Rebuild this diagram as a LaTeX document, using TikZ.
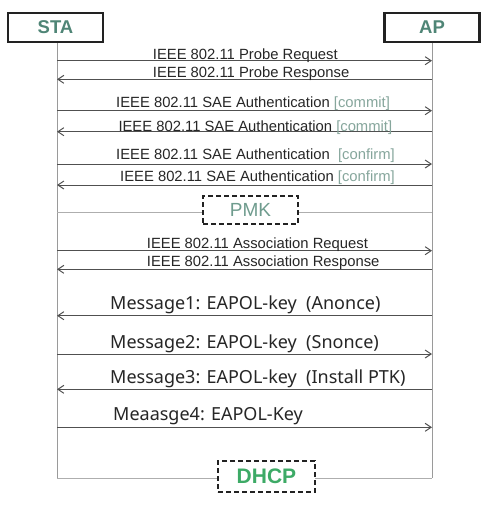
\documentclass[tikz,border=0pt]{standalone}
\usepackage{fontspec}
\setmainfont{Liberation Sans}
\newfontfamily\msgfont{Noto Sans}
\usetikzlibrary{arrows.meta}
\definecolor{boxline}{HTML}{222222}
\definecolor{boxtext}{HTML}{4F8576}
\definecolor{lifegray}{HTML}{9A9A9A}
\definecolor{arrowgray}{HTML}{505050}
\definecolor{labelgray}{HTML}{262626}
\definecolor{tagcolor}{HTML}{86A69C}
\definecolor{pmkcolor}{HTML}{6F9C8E}
\definecolor{dhcpcolor}{HTML}{3DAA66}
\tikzset{
	ent/.style={draw=boxline, line width=2.4pt, minimum width=95pt, minimum height=29pt, inner sep=0pt, text=boxtext, font=\fontsize{18.5}{20}\selectfont\bfseries},
	life/.style={draw=lifegray, line width=1pt},
	msg/.style={->, >={Straight Barb[length=6pt,width=8pt]}, draw=arrowgray, line width=1pt},
	ieee/.style={anchor=base west, inner sep=0pt, text=labelgray, font=\fontsize{14.8}{16}\selectfont},
	eapol/.style={anchor=base west, inner sep=0pt, text=labelgray, font=\msgfont\fontsize{18}{20}\selectfont},
	keybox/.style={draw=boxline, line width=2pt, dash pattern=on 5pt off 3pt, fill=white, minimum width=95pt, minimum height=28pt, inner sep=0pt}
}
\newcommand{\tag}[1]{\textcolor{tagcolor}{[}\textcolor{tagcolor}{#1}\textcolor{tagcolor}{]}}
\begin{document}
\begin{tikzpicture}[x=1pt, y=-1pt]
	\useasboundingbox[fill=white] (0,0) rectangle (500,507);

	\node[ent](sta) at (55.5,27.5) {STA};
	\node[ent](ap) at (432,27.5) {AP};
	\coordinate (staEnd) at (57,478);
	\coordinate (apEnd) at (432,478);
	\draw[life](sta.south -| staEnd) -- (staEnd);
	\draw[life](ap.south) -- (apEnd);

	% lifeline points
	\coordinate (s1) at (57,60.7);   \coordinate (a1) at (432,60.7);
	\coordinate (s2) at (57,79.3);   \coordinate (a2) at (432,79.3);
	\coordinate (s3) at (57,110.7);  \coordinate (a3) at (432,110.7);
	\coordinate (s4) at (57,131.7);  \coordinate (a4) at (432,131.7);
	\coordinate (s5) at (57,164);    \coordinate (a5) at (432,164);
	\coordinate (s6) at (57,185);    \coordinate (a6) at (432,185);
	\coordinate (s7) at (57,212);    \coordinate (a7) at (432,212);
	\coordinate (s8) at (57,250.7);  \coordinate (a8) at (432,250.7);
	\coordinate (s9) at (57,269.3);  \coordinate (a9) at (432,269.3);
	\coordinate (s10) at (57,315.7); \coordinate (a10) at (432,315.7);
	\coordinate (s11) at (57,354);   \coordinate (a11) at (432,354);
	\coordinate (s12) at (57,389.3); \coordinate (a12) at (432,389.3);
	\coordinate (s13) at (57,427.3); \coordinate (a13) at (432,427.3);

	% probe
	\draw[msg](s1) -- (a1);
	\node[ieee](l1) at (152.7,59.3) {IEEE 802.11 Probe Request};
	\draw[msg](a2) -- (s2);
	\node[ieee](l2) at (152.7,77.3) {IEEE 802.11 Probe Response};

	% SAE
	\draw[msg](s3) -- (a3);
	\node[ieee](l3) at (116,107.3) {IEEE 802.11 SAE Authentication \tag{commit}};
	\draw[msg](a4) -- (s4);
	\node[ieee](l4) at (118.3,131) {IEEE 802.11 SAE Authentication \tag{commit}};
	\draw[msg](s5) -- (a5);
	\node[ieee](l5) at (116,159.3) {IEEE 802.11 SAE Authentication \ \tag{confirm}};
	\draw[msg](a6) -- (s6);
	\node[ieee](l6) at (120,181) {IEEE 802.11 SAE Authentication \tag{confirm}};

	% PMK
	\draw[life, draw=lifegray!80](s7) -- (a7);
	\node[keybox, text=pmkcolor, font=\fontsize{19}{21}\selectfont](pmk) at (250.5,210) {PMK};

	% association
	\draw[msg](s8) -- (a8);
	\node[ieee](l8) at (146.7,248.3) {IEEE 802.11 Association Request};
	\draw[msg](a9) -- (s9);
	\node[ieee](l9) at (146.7,266.7) {IEEE 802.11 Association Response};

	% 4-way handshake
	\draw[msg](a10) -- (s10);
	\node[eapol](l10) at (110,309.3) {Message1: EAPOL-key\ \ (Anonce)};
	\draw[msg](s11) -- (a11);
	\node[eapol](l11) at (110,348) {Message2: EAPOL-key\ \ (Snonce)};
	\draw[msg](a12) -- (s12);
	\node[eapol](l12) at (110,383.3) {Message3: EAPOL-key\ \ (Install PTK)};
	\draw[msg](s13) -- (a13);
	\node[eapol](l13) at (113,420) {Meaasge4: EAPOL-Key};

	% DHCP
	\draw[life, draw=lifegray!80](staEnd) -- (apEnd);
	\node[keybox, minimum width=97pt, minimum height=31pt, text=dhcpcolor, font=\fontsize{21}{23}\selectfont\bfseries](dhcp) at (266.5,476.5) {DHCP};
\end{tikzpicture}
\end{document}
